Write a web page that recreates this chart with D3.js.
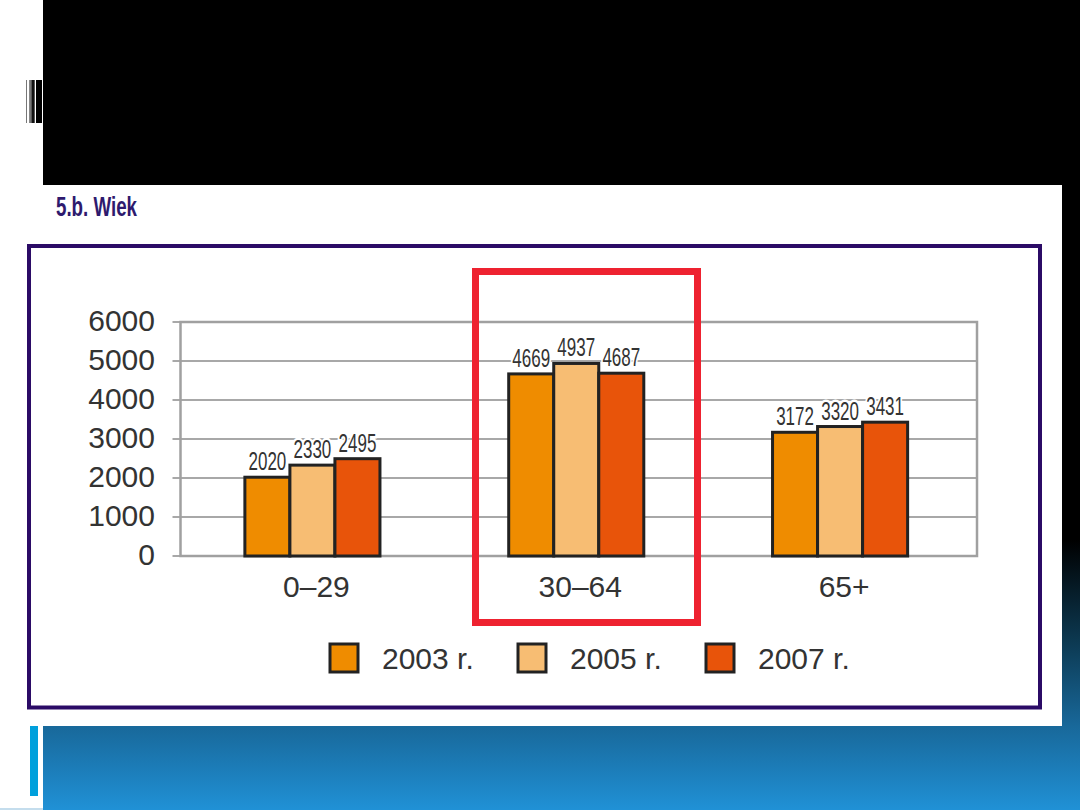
<!DOCTYPE html>
<html lang="pl">
<head>
<meta charset="UTF-8">
<title>5.b. Wiek</title>
<script src="https://d3js.org/d3.v7.min.js"></script>
<style>
    body { margin: 0; background: #fff; }
    svg { display: block; }
    .tick-label { font-family: "Liberation Sans", Arial, sans-serif; font-size: 30px; fill: #333; }
    .val { font-family: "Liberation Sans", Arial, sans-serif; font-size: 25px; fill: #333;
           stroke: #fff; stroke-width: 5px; paint-order: stroke; }
</style>
</head>
<body>
<svg id="slide" width="1080" height="810"></svg>
<script>
// chart data
const categories = ["0–29", "30–64", "65+"];
const seriesNames = ["2003 r.", "2005 r.", "2007 r."];
const values2003 = [2020, 4669, 3172];
const values2005 = [2330, 4937, 3320];
const values2007 = [2495, 4687, 3431];
const yTicks = [0, 1000, 2000, 3000, 4000, 5000, 6000];
const seriesColors = ["#ef8c00", "#f7bd73", "#e8540a"];

const series = [values2003, values2005, values2007];

const svg = d3.select("#slide");

// slide background: black top turning to blue at the bottom
const defs = svg.append("defs");
const grad = defs.append("linearGradient").attr("id", "bg").attr("x1", 0).attr("y1", 0).attr("x2", 0).attr("y2", 1);
grad.append("stop").attr("offset", 0).attr("stop-color", "#000");
grad.append("stop").attr("offset", 540 / 810).attr("stop-color", "#000");
grad.append("stop").attr("offset", 640 / 810).attr("stop-color", "#0c3850");
grad.append("stop").attr("offset", 726 / 810).attr("stop-color", "#18689a");
grad.append("stop").attr("offset", 1).attr("stop-color", "#2091d6");

svg.append("rect").attr("x", 43).attr("y", 0).attr("width", 1037).attr("height", 810).attr("fill", "url(#bg)");
svg.append("rect").attr("x", 43).attr("y", 185).attr("width", 1019).attr("height", 541).attr("fill", "#fff");

// small cyan marker, bottom left
svg.append("rect").attr("x", 30).attr("y", 726).attr("width", 8).attr("height", 70).attr("fill", "#00a0dc");
svg.append("rect").attr("x", 0).attr("y", 808).attr("width", 43).attr("height", 2).attr("fill", "#c4dded");

// glitchy title glyph remnant
[[26, 1, "#777"], [29.3, 1.5, "#555"], [31.3, 3.4, "#111"], [36, 6, "#000"]].forEach(b => {
    svg.append("rect").attr("x", b[0]).attr("y", 80).attr("width", b[1]).attr("height", 43).attr("fill", b[2]);
});

// heading
svg.append("text")
    .attr("x", 56).attr("y", 216)
    .attr("textLength", 81).attr("lengthAdjust", "spacingAndGlyphs")
    .style("font-family", "'Liberation Sans', Arial, sans-serif")
    .style("font-size", "27px").style("font-weight", "bold")
    .style("fill", "#2e1a6e")
    .text("5.b. Wiek");

// purple frame
svg.append("rect").attr("x", 29).attr("y", 246).attr("width", 1011).attr("height", 461.5)
    .attr("fill", "none").attr("stroke", "#2b0b66").attr("stroke-width", 4);

// chart
const plotLeft = 180.5, plotRight = 977, plotTop = 322, plotBottom = 556;

const x = d3.scaleBand().domain(categories).range([plotLeft, 972]).padding(0);
const y = d3.scaleLinear().domain([0, 6000]).range([plotBottom, plotTop]);
const xs = d3.scaleBand().domain(seriesNames)
    .range([x.bandwidth() * 0.244, x.bandwidth() * 0.756]).padding(0);

// gridlines and ticks
svg.append("g").selectAll("line").data(yTicks).join("line")
    .attr("x1", plotLeft - 8).attr("x2", plotRight)
    .attr("y1", d => y(d)).attr("y2", d => y(d))
    .attr("stroke", "#a8a8a8").attr("stroke-width", 2);

svg.append("g").selectAll("text").data(yTicks).join("text")
    .attr("class", "tick-label")
    .attr("x", 155).attr("y", d => y(d)).attr("dy", "0.31em")
    .attr("text-anchor", "end")
    .text(d => d);

// plot frame
svg.append("rect").attr("x", plotLeft).attr("y", plotTop)
    .attr("width", plotRight - plotLeft).attr("height", plotBottom - plotTop)
    .attr("fill", "none").attr("stroke", "#a0a0a0").attr("stroke-width", 2.5);

// bars
const barData = [];
categories.forEach((c, ci) => {
    seriesNames.forEach((s, si) => {
        barData.push({ cat: c, name: s, value: series[si][ci], color: seriesColors[si] });
    });
});

const g = svg.append("g");
g.selectAll("rect").data(barData).join("rect")
    .attr("x", d => x(d.cat) + xs(d.name))
    .attr("y", d => y(d.value))
    .attr("width", xs.bandwidth())
    .attr("height", d => y(0) - y(d.value))
    .attr("fill", d => d.color)
    .attr("stroke", "#222").attr("stroke-width", 3);

// condensed value labels (narrowed with a horizontal scale)
g.selectAll("text").data(barData).join("text")
    .attr("class", "val")
    .attr("transform", d => `translate(${x(d.cat) + xs(d.name) + xs.bandwidth() / 2},${y(d.value) - 7}) scale(0.68,1)`)
    .attr("text-anchor", "middle")
    .text(d => d.value);

// category labels
svg.append("g").selectAll("text").data(categories).join("text")
    .attr("class", "tick-label")
    .attr("x", d => x(d) + x.bandwidth() / 2 + 4)
    .attr("y", 597)
    .attr("text-anchor", "middle")
    .text(d => d);

// legend
const legend = svg.append("g").selectAll("g").data(seriesNames).join("g")
    .attr("transform", (d, i) => `translate(${330 + i * 188}, 644)`);
legend.append("rect")
    .attr("width", 28).attr("height", 28)
    .attr("fill", (d, i) => seriesColors[i])
    .attr("stroke", "#222").attr("stroke-width", 3);
legend.append("text")
    .attr("class", "tick-label")
    .attr("x", 52).attr("y", 25)
    .text(d => d);

// red highlight box around 30–64
svg.append("rect").attr("x", 475.5).attr("y", 271.5).attr("width", 222).attr("height", 351)
    .attr("fill", "none").attr("stroke", "#ee2230").attr("stroke-width", 7);
</script>
</body>
</html>
